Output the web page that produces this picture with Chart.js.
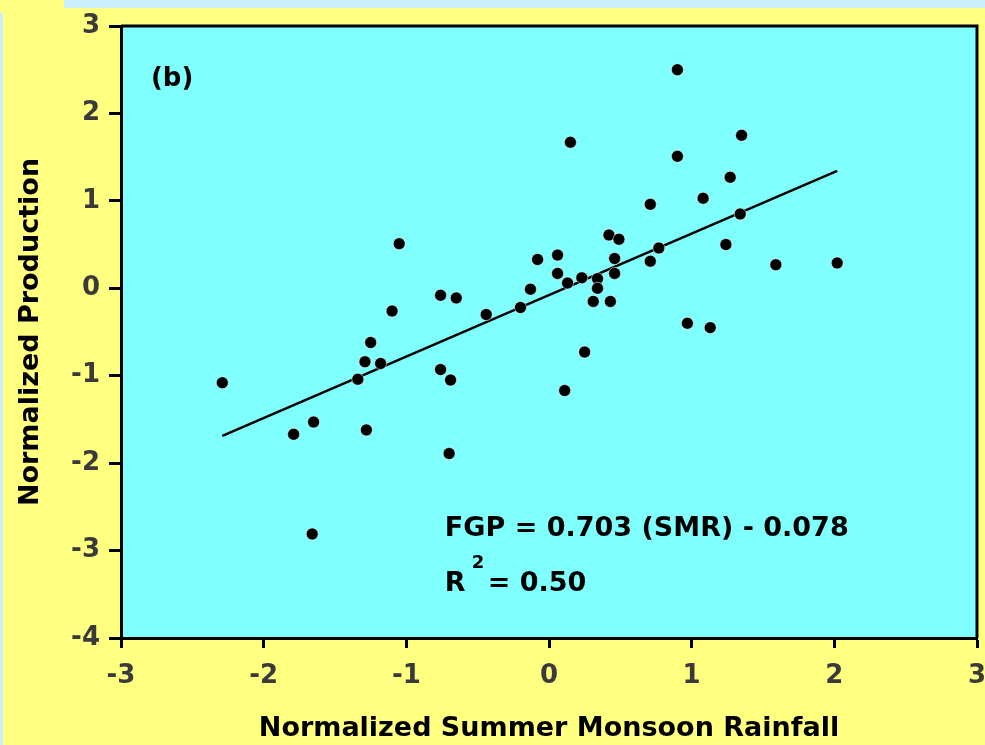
<!DOCTYPE html>
<html>
<head>
<meta charset="utf-8">
<script src="https://cdn.jsdelivr.net/npm/chart.js@4.4.1/dist/chart.umd.min.js"></script>
<style>
  html, body { margin: 0; padding: 0; background: #ffff80; }
  #wrap { width: 985px; height: 745px; position: relative; }
</style>
</head>
<body>
<div id="wrap"><canvas id="scatter" width="985" height="745"></canvas></div>
<script>
// normalized summer monsoon rainfall (x) vs normalized production (y)
const smr = [
  -2.29, -1.79, -1.65, -1.66, -1.34, -1.29, -1.25, -1.18, -1.28, -1.10,
  -1.05, -0.76, -0.65, -0.76, -0.69, -0.70, -0.44, -0.20, -0.13, -0.08,
  0.06, 0.06, 0.13, 0.23, 0.34, 0.34, 0.31, 0.43, 0.46, 0.46,
  0.42, 0.49, 0.15, 0.25, 0.11, 0.71, 0.71, 0.77, 0.90, 0.90,
  0.97, 1.13, 1.08, 1.27, 1.35, 1.34, 1.24, 1.59, 2.02
];
const fgp = [
  -1.08, -1.67, -1.53, -2.81, -1.04, -0.84, -0.62, -0.86, -1.62, -0.26,
  0.51, -0.08, -0.11, -0.93, -1.05, -1.89, -0.30, -0.22, -0.01, 0.33,
  0.38, 0.17, 0.06, 0.12, 0.11, 0.00, -0.15, -0.15, 0.17, 0.34,
  0.61, 0.56, 1.67, -0.73, -1.17, 0.96, 0.31, 0.46, 1.51, 2.50,
  -0.40, -0.45, 1.03, 1.27, 1.75, 0.85, 0.50, 0.27, 0.29
];

// fitted line: FGP = 0.703 (SMR) - 0.078
const slope = 0.703;
const intercept = -0.078;
const r2 = 0.50;

const xTicks = [-3, -2, -1, 0, 1, 2, 3];
const yTicks = [3, 2, 1, 0, -1, -2, -3, -4];

const points = smr.map((x, i) => ({ x: x, y: fgp[i] }));
const xMin = Math.min(...smr), xMax = Math.max(...smr);
const fitLine = [xMin, xMax].map(x => ({ x: x, y: slope * x + intercept }));

const FONT = "'DejaVu Sans', sans-serif";

const backdrop = {
  id: 'backdrop',
  beforeDraw(chart) {
    const { ctx, chartArea: a, width, height } = chart;
    ctx.save();
    ctx.fillStyle = '#ffff80';
    ctx.fillRect(0, 0, width, height);
    ctx.fillStyle = '#cceeff';
    ctx.fillRect(64, 0, width - 64, 8);
    ctx.fillRect(0, 13, 3, height - 13);
    ctx.fillStyle = '#80ffff';
    ctx.fillRect(a.left, a.top, a.right - a.left, a.bottom - a.top);
    ctx.restore();
  },
  afterDraw(chart) {
    const { ctx, chartArea: a, scales } = chart;
    const sx = scales.x, sy = scales.y;
    ctx.save();
    // top and right frame
    ctx.strokeStyle = '#000';
    ctx.lineWidth = 3;
    ctx.beginPath();
    ctx.moveTo(a.left, a.top);
    ctx.lineTo(a.right, a.top);
    ctx.lineTo(a.right, a.bottom);
    ctx.stroke();

    ctx.fillStyle = '#000';
    ctx.textBaseline = 'alphabetic';
    ctx.textAlign = 'left';
    ctx.font = 'bold 26px ' + FONT;
    ctx.fillText('(b)', sx.getPixelForValue(-2.79), sy.getPixelForValue(2.31));

    const ex = sx.getPixelForValue(-0.73);
    ctx.font = 'bold 27px ' + FONT;
    const eq = 'FGP = ' + slope.toFixed(3) + ' (SMR) - ' + Math.abs(intercept).toFixed(3);
    ctx.fillText(eq, ex, sy.getPixelForValue(-2.83));

    const by = sy.getPixelForValue(-3.46);
    ctx.fillText('R', ex, by);
    const rw = ctx.measureText('R').width;
    ctx.font = 'bold 18px ' + FONT;
    ctx.fillText('2', ex + rw + 6, by - 23);
    ctx.font = 'bold 27px ' + FONT;
    ctx.fillText('= ' + r2.toFixed(2), ex + rw + 22, by);
    ctx.restore();
  }
};

new Chart(document.getElementById('scatter'), {
  type: 'scatter',
  data: {
    datasets: [
      {
        label: 'years',
        data: points,
        pointRadius: 6,
        pointBackgroundColor: '#000',
        pointBorderColor: 'rgba(255,255,255,0.55)',
        pointBorderWidth: 1,
        order: 1
      },
      {
        type: 'line',
        label: 'fit',
        data: fitLine,
        borderColor: '#000',
        borderWidth: 2.5,
        pointRadius: 0,
        fill: false,
        order: 2
      }
    ]
  },
  options: {
    responsive: false,
    animation: false,
    devicePixelRatio: 1,
    layout: { padding: { top: 26, right: 8, left: 0, bottom: 0 } },
    plugins: { legend: { display: false }, tooltip: { enabled: false } },
    scales: {
      x: {
        type: 'linear',
        min: -3, max: 3,
        afterBuildTicks(scale) { scale.ticks = xTicks.map(v => ({ value: v })); },
        afterFit(scale) { scale.height = 107; scale.paddingLeft = 0; scale.paddingRight = 0; },
        border: { display: true, color: '#000', width: 3 },
        grid: { drawOnChartArea: false, drawTicks: true, tickLength: 10, tickWidth: 3, tickColor: '#000' },
        ticks: { autoSkip: false, maxRotation: 0, padding: 13, color: '#3a3a3a', font: { family: FONT, size: 26, weight: 'bold' } },
        title: {
          display: true,
          text: 'Normalized Summer Monsoon Rainfall',
          color: '#000',
          font: { family: FONT, size: 27, weight: 'bold' },
          padding: { top: 0, bottom: 0 }
        }
      },
      y: {
        type: 'linear',
        min: -4, max: 3,
        afterBuildTicks(scale) { scale.ticks = yTicks.map(v => ({ value: v })); },
        afterFit(scale) { scale.width = 121; scale.paddingTop = 0; scale.paddingBottom = 0; },
        border: { display: true, color: '#000', width: 3 },
        grid: { drawOnChartArea: false, drawTicks: true, tickLength: 12, tickWidth: 3, tickColor: '#000' },
        ticks: { autoSkip: false, padding: 9, color: '#3a3a3a', font: { family: FONT, size: 26, weight: 'bold' } },
        title: {
          display: true,
          text: 'Normalized Production',
          color: '#000',
          font: { family: FONT, size: 27, weight: 'bold' },
          padding: { top: 15, bottom: 0 }
        }
      }
    }
  },
  plugins: [backdrop]
});
</script>
</body>
</html>
